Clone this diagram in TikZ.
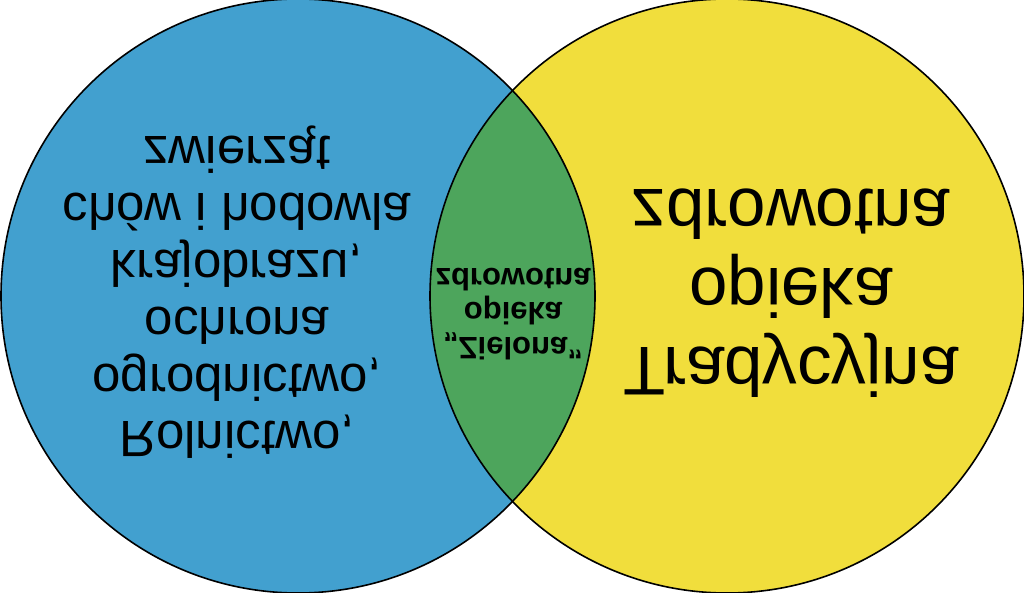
\documentclass[tikz,border=0pt]{standalone}
\usepackage{fontspec}
\setmainfont{Liberation Sans}
\definecolor{vblue}{RGB}{66,160,207}
\definecolor{vyellow}{RGB}{241,222,60}
\definecolor{vgreen}{RGB}{77,165,92}
\begin{document}
\begin{tikzpicture}[x=1pt,y=-1pt,
  ring/.style={draw=black,line width=1.6pt},
  fliptext/.style={align=center,text=black,inner sep=0pt,yscale=-1,transform shape}]
\useasboundingbox (0,0) rectangle (1024,593);
\coordinate (cl) at (298,296);
\coordinate (cr) at (727,296);
\fill[vblue] (cl) circle[radius=297];
\fill[vyellow] (cr) circle[radius=297];
\begin{scope}
  \clip (cl) circle[radius=297];
  \fill[vgreen] (cr) circle[radius=297];
\end{scope}
\draw[ring] (cl) circle[radius=297];
\draw[ring] (cr) circle[radius=297];
\node[fliptext,font=\fontsize{51}{57}\selectfont] (L) at (237,292)
  {Rolnictwo,\\ogrodnictwo,\\ochrona\\krajobrazu,\\chów i hodowla\\zwierząt};
\node[fliptext,font=\bfseries\fontsize{31}{34.5}\selectfont] (M) at (513,314)
  {„Zielona”\\opieka\\zdrowotna};
\node[fliptext,font=\fontsize{69}{79}\selectfont] (R) at (791,293)
  {Tradycyjna\\opieka\\zdrowotna};
\end{tikzpicture}
\end{document}
